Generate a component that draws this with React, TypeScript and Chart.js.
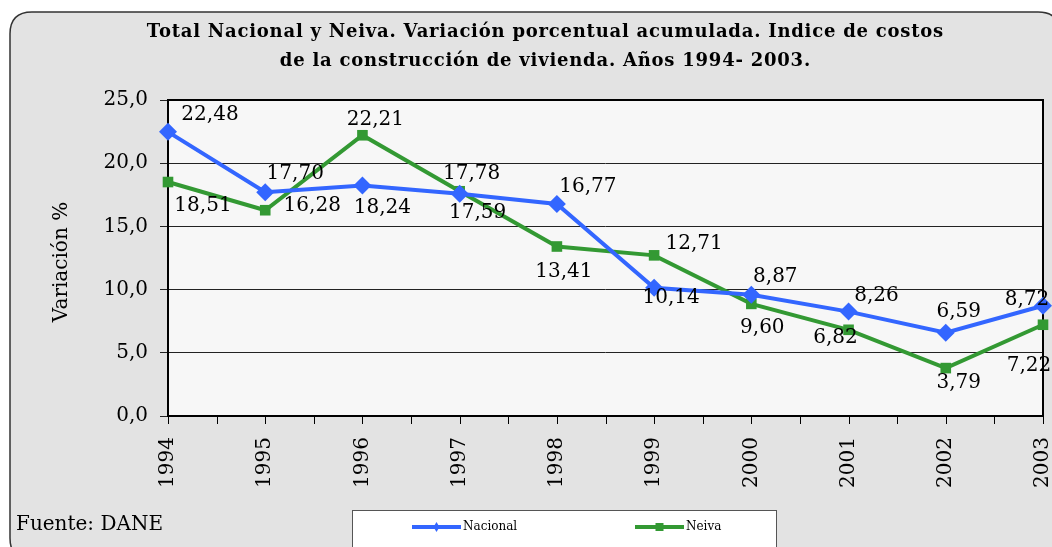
import React, { useEffect, useRef } from 'react';
import { Chart, registerables } from 'chart.js';

Chart.register(...registerables);

// ---------- data ----------
const years = ['1994', '1995', '1996', '1997', '1998', '1999', '2000', '2001', '2002', '2003'];
const nacional = [22.48, 17.7, 18.24, 17.59, 16.77, 10.14, 9.6, 8.26, 6.59, 8.72];
const neiva = [18.51, 16.28, 22.21, 17.78, 13.41, 12.71, 8.87, 6.82, 3.79, 7.22];
const yTicks = [0, 5, 10, 15, 20, 25];
const titleLines = [
  'Total Nacional y Neiva. Variación porcentual acumulada. Indice de costos',
  'de la construcción de vivienda. Años 1994- 2003.',
];
const yTitle = 'Variación %';
const sourceText = 'Fuente: DANE';
const seriesNames = ['Nacional', 'Neiva'];

// ---------- style ----------
const W = 1052;
const H = 547;
const FONT = "'DejaVu Serif', serif";
const BLUE = '#3366ff';
const GREEN = '#339933';
const TITLE_WIDTH = 797;
// label offsets (relative to the point) for data labels
const nacionalLabelOffsets = [[42, -17], [30, -18], [20, 22], [18, 19], [31, -17], [17, 10], [11, 33], [28, -16], [13, -21], [-16, -6]];
const neivaLabelOffsets = [[35, 24], [47, -4], [13, -15], [12, -17], [7, 25], [40, -12], [24, -27], [-13, 8], [13, 15], [-14, 41]];

const fmt = (v: number, d: number) => v.toFixed(d).replace('.', ',');

function roundRectPath(ctx: CanvasRenderingContext2D, x: number, y: number, w: number, h: number, r: number) {
  ctx.beginPath();
  ctx.moveTo(x + r, y);
  ctx.lineTo(x + w - r, y);
  ctx.quadraticCurveTo(x + w, y, x + w, y + r);
  ctx.lineTo(x + w, y + h - r);
  ctx.quadraticCurveTo(x + w, y + h, x + w - r, y + h);
  ctx.lineTo(x + r, y + h);
  ctx.quadraticCurveTo(x, y + h, x, y + h - r);
  ctx.lineTo(x, y + r);
  ctx.quadraticCurveTo(x, y, x + r, y);
  ctx.closePath();
}

const decorPlugin = {
  id: 'decor',
  beforeDraw(chart: any) {
    const ctx: CanvasRenderingContext2D = chart.ctx;
    const { left, top, right, bottom } = chart.chartArea;
    ctx.save();
    ctx.fillStyle = '#ffffff';
    ctx.fillRect(0, 0, W, H);
    roundRectPath(ctx, 10, 12, 1050, 548, 22);
    ctx.fillStyle = '#e3e3e3';
    ctx.fill();
    ctx.lineWidth = 1.5;
    ctx.strokeStyle = '#333333';
    ctx.stroke();
    ctx.fillStyle = '#f7f7f7';
    ctx.fillRect(left, top, right - left, bottom - top);
    ctx.restore();
  },
  beforeDatasetsDraw(chart: any) {
    const ctx: CanvasRenderingContext2D = chart.ctx;
    const { left, top, right, bottom } = chart.chartArea;
    ctx.save();
    ctx.strokeStyle = '#000000';
    ctx.lineWidth = 2;
    ctx.strokeRect(left, top, right - left, bottom - top);
    const xs = chart.scales.x;
    ctx.lineWidth = 1;
    ctx.beginPath();
    for (let i = 0; i < years.length; i++) {
      const x = Math.round(xs.getPixelForValue(i)) + 0.5;
      ctx.moveTo(x, bottom);
      ctx.lineTo(x, bottom + 8);
      if (i < years.length - 1) {
        const xm = Math.round((xs.getPixelForValue(i) + xs.getPixelForValue(i + 1)) / 2) + 0.5;
        ctx.moveTo(xm, bottom);
        ctx.lineTo(xm, bottom + 8);
      }
    }
    ctx.stroke();
    ctx.restore();
  },
  afterDatasetsDraw(chart: any) {
    const ctx: CanvasRenderingContext2D = chart.ctx;
    ctx.save();
    ctx.font = `20px ${FONT}`;
    ctx.fillStyle = '#000000';
    ctx.textAlign = 'center';
    ctx.textBaseline = 'middle';
    const offsets = [nacionalLabelOffsets, neivaLabelOffsets];
    chart.data.datasets.forEach((ds: any, di: number) => {
      const meta = chart.getDatasetMeta(di);
      meta.data.forEach((pt: any, i: number) => {
        const [dx, dy] = offsets[di][i];
        ctx.fillText(fmt(ds.data[i], 2), pt.x + dx, pt.y + dy);
      });
    });
    ctx.restore();
  },
  afterDraw(chart: any) {
    const ctx: CanvasRenderingContext2D = chart.ctx;
    const { top, bottom } = chart.chartArea;
    ctx.save();
    // title
    ctx.fillStyle = '#000000';
    ctx.font = `bold 18px ${FONT}`;
    ctx.textAlign = 'center';
    ctx.textBaseline = 'alphabetic';
    const base = ctx.measureText(titleLines[0]).width;
    const ls = Math.max(0, (TITLE_WIDTH - base) / titleLines[0].length);
    (ctx as any).letterSpacing = `${ls.toFixed(2)}px`;
    ctx.fillText(titleLines[0], 545 + ls / 2, 37);
    ctx.fillText(titleLines[1], 545 + ls / 2, 66);
    (ctx as any).letterSpacing = '0px';
    // y title
    ctx.save();
    ctx.translate(62, (top + bottom) / 2 + 4);
    ctx.rotate(-Math.PI / 2);
    ctx.font = `20px ${FONT}`;
    ctx.textBaseline = 'middle';
    ctx.fillText(yTitle, 0, 0);
    ctx.restore();
    // source
    ctx.font = `20px ${FONT}`;
    ctx.textAlign = 'left';
    ctx.fillText(sourceText, 16, 530);
    // legend
    ctx.fillStyle = '#ffffff';
    ctx.fillRect(352, 510, 424, 50);
    ctx.strokeStyle = '#555555';
    ctx.lineWidth = 1;
    ctx.strokeRect(352.5, 510.5, 424, 50);
    const items = [
      { x: 412, color: BLUE, style: 'rectRot', r: 5 },
      { x: 635, color: GREEN, style: 'rect', r: 5 },
    ];
    items.forEach((it, i) => {
      const y = 527;
      ctx.strokeStyle = it.color;
      ctx.lineWidth = 4;
      ctx.beginPath();
      ctx.moveTo(it.x, y);
      ctx.lineTo(it.x + 49, y);
      ctx.stroke();
      ctx.fillStyle = it.color;
      const cx = it.x + 24.5;
      if (it.style === 'rectRot') {
        ctx.beginPath();
        ctx.moveTo(cx, y - it.r);
        ctx.lineTo(cx + it.r * 0.6, y);
        ctx.lineTo(cx, y + it.r);
        ctx.lineTo(cx - it.r * 0.6, y);
        ctx.closePath();
        ctx.fill();
      } else {
        ctx.fillRect(cx - 4, y - 4, 8, 8);
      }
      ctx.fillStyle = '#000000';
      ctx.font = `12px ${FONT}`;
      ctx.textBaseline = 'middle';
      ctx.textAlign = 'left';
      ctx.fillText(seriesNames[i], it.x + 51, y);
    });
    ctx.restore();
  },
};

export default function App() {
  const ref = useRef<HTMLCanvasElement>(null);
  useEffect(() => {
    document.body.style.margin = '0';
    const canvas = ref.current;
    if (!canvas) return;
    const chart = new Chart(canvas, {
      type: 'line',
      data: {
        labels: years,
        datasets: [
          {
            label: seriesNames[0],
            data: nacional,
            borderColor: BLUE,
            backgroundColor: BLUE,
            borderWidth: 4,
            pointStyle: 'rectRot',
            pointRadius: 9,
            pointBorderWidth: 0,
            pointBackgroundColor: BLUE,
            tension: 0,
            clip: false as any,
          },
          {
            label: seriesNames[1],
            data: neiva,
            borderColor: GREEN,
            backgroundColor: GREEN,
            borderWidth: 4,
            pointStyle: 'rect',
            pointRadius: 7.5,
            pointBorderWidth: 0,
            pointBackgroundColor: GREEN,
            tension: 0,
            clip: false as any,
          },
        ],
      },
      options: {
        responsive: false,
        animation: false,
        events: [],
        layout: { padding: { top: 100, left: 0, right: 9, bottom: 0 } },
        plugins: {
          legend: { display: false },
          title: { display: false },
          tooltip: { enabled: false },
        },
        scales: {
          x: {
            type: 'category',
            offset: false,
            grid: { display: false, drawTicks: false },
            border: { display: false },
            ticks: {
              autoSkip: false,
              maxRotation: 90,
              minRotation: 90,
              padding: 21,
              color: '#000000',
              font: { family: FONT, size: 20 },
            },
            afterFit(scale: any) {
              scale.height = 131;
              scale.paddingLeft = 0;
              scale.paddingRight = 0;
            },
          },
          y: {
            min: 0,
            max: 25,
            afterBuildTicks(scale: any) {
              scale.ticks = yTicks.map((v) => ({ value: v }));
            },
            grid: { color: '#222222', lineWidth: 1, drawTicks: true, tickLength: 8 },
            border: { display: false },
            ticks: {
              padding: 12,
              color: '#000000',
              font: { family: FONT, size: 20 },
              callback: (v: any) => fmt(Number(v), 1),
            },
            afterFit(scale: any) {
              scale.width = 168;
            },
          },
        },
      },
      plugins: [decorPlugin],
    });
    return () => chart.destroy();
  }, []);
  return <canvas ref={ref} width={W} height={H} style={{ display: 'block', width: W, height: H }} />;
}
